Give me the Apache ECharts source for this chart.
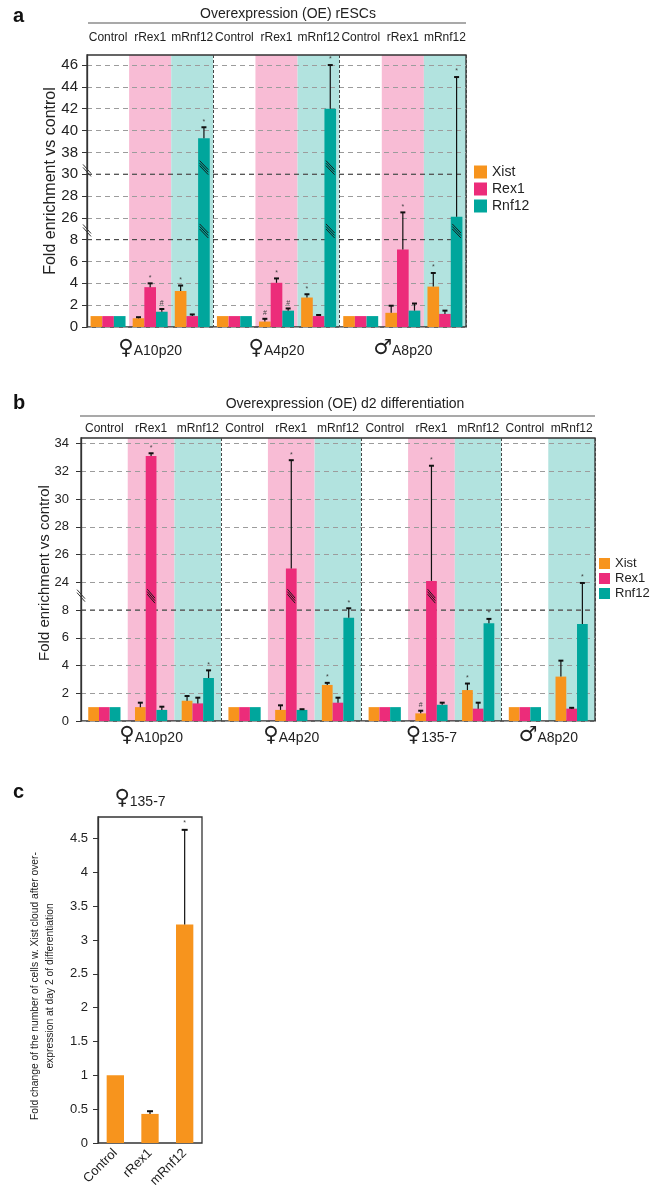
<!DOCTYPE html>
<html><head><meta charset="utf-8">
<script src="https://cdn.jsdelivr.net/npm/echarts@6/dist/echarts.min.js"></script>
<style>html,body{margin:0;padding:0;background:#fff}#c{width:650px;height:1192px}</style>
</head><body><div id="c"></div>
<script>
// ================= DATA =================
const seriesNames = ['Xist', 'Rex1', 'Rnf12'];

// ---- panel a: Overexpression (OE) rESCs ----
const aSub = ['Control','rRex1','mRnf12','Control','rRex1','mRnf12','Control','rRex1','mRnf12'];
const aGroups = ['A10p20', 'A4p20', 'A8p20'];
const aSex = ['♀', '♀', '♂'];
const aGroupSize = [3, 3, 3];
const aXist  = [1.0, 0.8, 3.3,  1.0, 0.5, 2.7,  1.0, 1.3, 3.7];
const aRex1  = [1.0, 3.65, 1.0, 1.0, 4.05, 1.0, 1.0, 7.1, 1.2];
const aRnf12 = [1.0, 1.4, 39.3, 1.0, 1.5, 42.0, 1.0, 1.5, 26.1];
const aXistErr  = [null, 0.9, 3.8,  null, 0.75, 3.0, null, 1.95, 4.95];
const aRex1Err  = [null, 4.0, 1.15, null, 4.45, 1.1, null, 26.5, 1.5];
const aRnf12Err = [null, 1.65, 40.3, null, 1.7, 46.0, null, 2.15, 44.9];
const aXistMark  = ['', '', '*', '', '#', '*', '', '', '*'];
const aRex1Mark  = ['', '*', '', '', '*', '', '', '*', ''];
const aRnf12Mark = ['', '#', '*', '', '#', '*', '', '', '*'];
const aTickLabels = ['0','2','4','6','8','26','28','30','38','40','42','44','46'];

// ---- panel b: Overexpression (OE) d2 differentiation ----
const bSub = ['Control','rRex1','mRnf12','Control','rRex1','mRnf12','Control','rRex1','mRnf12','Control','mRnf12'];
const bGroups = ['A10p20', 'A4p20', '135-7', 'A8p20'];
const bSex = ['♀', '♀', '♀', '♂'];
const bGroupSize = [3, 3, 3, 2];
const bXist  = [1.0, 1.0, 1.46, 1.0, 0.8, 2.6,  1.0, 0.55, 2.23, 1.0, 3.2];
const bRex1  = [1.0, 33.1, 1.27, 1.0, 25.0, 1.32, 1.0, 24.1, 0.89, 1.0, 0.89];
const bRnf12 = [1.0, 0.8, 3.1,  1.0, 0.8, 7.45, 1.0, 1.17, 7.05, 1.0, 7.0];
const bXistErr  = [null, 1.32, 1.8,  null, 1.13, 2.75, null, 0.74, 2.7,  null, 4.35];
const bRex1Err  = [null, 33.3, 1.68, null, 32.8, 1.68, null, 32.4, 1.32, null, 0.95];
const bRnf12Err = [null, 1.03, 3.65, null, 0.85, 9.0,  null, 1.32, 7.36, null, 23.6];
const bXistMark  = ['', '', '', '', '', '*', '', '#', '*', '', ''];
const bRex1Mark  = ['', '*', '', '', '*', '', '', '*', '', '', ''];
const bRnf12Mark = ['', '', '*', '', '', '*', '', '', '*', '', '*'];
const bTickLabels = ['0','2','4','6','8','24','26','28','30','32','34'];

// ---- panel c: ♀135-7 ----
const cCats = ['Control', 'rRex1', 'mRnf12'];
const cVals = [1.0, 0.43, 3.23];
const cErr  = [null, 0.47, 4.63];
const cMark = ['', '', '*'];
const cTickValues = [0, 0.5, 1, 1.5, 2, 2.5, 3, 3.5, 4, 4.5];

// ================= STYLE =================
const FONT = '"Liberation Sans", Arial, Helvetica, sans-serif';
const COLORS = { Xist: '#F7941D', Rex1: '#EC2C7A', Rnf12: '#00A69C' };
const BAND = { Control: '#FFFFFF', rRex1: '#F8BCD5', mRnf12: '#B2E3DF' };
const TXT = '#222';

// broken-axis scales (real value -> axis position)
function tA(v) {
  if (v <= 8) return v / 2;
  if (v <= 26) return 4 + (v - 8) / 18;
  if (v <= 30) return 5 + (v - 26) / 2;
  if (v <= 38) return 7 + (v - 30) / 8;
  return 8 + (v - 38) / 2;
}
function tB(v) {
  if (v <= 8) return v / 2;
  if (v <= 24) return 4 + (v - 8) / 16;
  return 5 + (v - 24) / 2;
}
function tC(v) { return v; }

function groupCenters(sizes) {
  const out = []; let acc = 0;
  sizes.forEach(s => { out.push(acc + s / 2); acc += s; });
  return out;
}
function sepIndices(sizes) {
  const out = []; let acc = 0;
  sizes.slice(0, -1).forEach(s => { acc += s; out.push(acc); });
  return out;
}

const chart = echarts.init(document.getElementById('c'), null, { renderer: 'canvas', width: 650, height: 1192 });

const grids = [
  { left: 87, top: 55, width: 379, height: 272 },
  { left: 81, top: 438, width: 514, height: 283 },
  { left: 98, top: 817, width: 104, height: 326 }
].map(g => Object.assign(g, { show: true, borderColor: '#333', borderWidth: 1.3, backgroundColor: 'transparent', containLabel: false }));

const xAxes = [], yAxes = [], series = [];

function groupAxis(gi, sizes, groups, sex, margin) {
  const centers = groupCenters(sizes);
  const total = sizes.reduce((a, b) => a + b, 0);
  return {
    type: 'value', gridIndex: gi, min: 0, max: total, position: 'bottom',
    axisLine: { show: false, onZero: false }, axisTick: { show: false }, splitLine: { show: false },
    axisLabel: {
      customValues: centers, margin: margin,
      formatter: v => { const i = centers.findIndex(c => Math.abs(c - v) < 1e-6); return i < 0 ? '' : '{g|' + sex[i] + '}{t|' + groups[i] + '}'; },
      rich: {
        g: { fontSize: 21, fontFamily: 'DejaVu Sans', color: TXT, padding: [0, 0, 0, 0] },
        t: { fontSize: 14, fontFamily: FONT, color: TXT, padding: [6, 0, 0, 0] }
      }
    }
  };
}

function buildPanel(cfg) {
  const xMain = xAxes.length;
  xAxes.push({
    type: 'category', gridIndex: cfg.gi, data: cfg.sub, position: 'top',
    axisLine: { show: false }, axisTick: { show: false }, splitLine: { show: false },
    axisLabel: { fontSize: 12, color: TXT, fontFamily: FONT, margin: cfg.topMargin, interval: 0 }
  });
  const xBand = xAxes.length;
  const seps = sepIndices(cfg.groupSize);
  xAxes.push({
    type: 'category', gridIndex: cfg.gi, data: cfg.sub, position: 'bottom',
    axisLine: { show: false, onZero: false }, axisTick: { show: false }, axisLabel: { show: false },
    splitLine: { show: true, interval: (i) => seps.indexOf(i) >= 0, lineStyle: { color: '#444', type: [3, 2], width: 1 } }
  });
  xAxes.push(groupAxis(cfg.gi, cfg.groupSize, cfg.groups, cfg.sex, cfg.botMargin));
  const yi = yAxes.length;
  const ticks = cfg.tickLabels.map((_, i) => i);
  yAxes.push({
    type: 'value', gridIndex: cfg.gi, min: 0, max: cfg.ymax,
    axisLine: { show: true, lineStyle: { color: '#333', width: 1.3 } },
    axisTick: { show: true, inside: false, length: 5, customValues: ticks, lineStyle: { color: '#333' } },
    axisLabel: { customValues: ticks, formatter: v => cfg.tickLabels[Math.round(v)], fontSize: cfg.tickFont, color: TXT, fontFamily: FONT, margin: cfg.labelMargin },
    splitLine: { show: true, lineStyle: { color: '#9c9c9c', type: [5, 4], width: 1 } }
  });
  const gap = cfg.gapPct / 100;
  const tf = cfg.tf;
  // background bands
  series.push({
    type: 'bar', xAxisIndex: xBand, yAxisIndex: yi, barWidth: '100%', z: -1, silent: true,
    data: cfg.sub.map(s => ({ value: cfg.ymax, itemStyle: { color: BAND[s] } }))
  });
  // bars
  seriesNames.forEach((n, k) => {
    series.push({
      type: 'bar', name: n, xAxisIndex: xMain, yAxisIndex: yi, barGap: '0%', barCategoryGap: cfg.gapPct + '%', z: 2,
      itemStyle: { color: COLORS[n] }, data: cfg.vals[k].map(v => tf(v))
    });
  });
  // error bars + hatches
  const errItems = [], hatchItems = [];
  for (let k = 0; k < 3; k++) {
    cfg.vals[k].forEach((v, c) => {
      const e = cfg.errs[k][c];
      if (e != null) errItems.push({ c, k, v: tf(v), e: tf(e), m: cfg.marks[k][c] });
      cfg.hatchPos.forEach(p => { if (tf(v) > p + 0.2) hatchItems.push({ c, k, p }); });
    });
  }
  series.push({
    type: 'custom', xAxisIndex: xMain, yAxisIndex: yi, z: 4, silent: true,
    data: errItems.map(it => [it.c, it.e]),
    renderItem: function (params, api) {
      const it = errItems[params.dataIndex];
      const bw = api.size([1, 0])[0];
      const barW = bw * (1 - gap) / 3;
      const cx = api.coord([it.c, 0])[0] + (it.k - 1) * barW;
      const y0 = api.coord([it.c, it.v])[1];
      const y1 = api.coord([it.c, it.e])[1];
      const ch = [
        { type: 'line', shape: { x1: cx, y1: y0, x2: cx, y2: y1 }, style: { stroke: '#111', lineWidth: 1.2 } },
        { type: 'line', shape: { x1: cx - 2.5, y1: y1, x2: cx + 2.5, y2: y1 }, style: { stroke: '#111', lineWidth: 2 } }
      ];
      if (it.m) ch.push({ type: 'text', x: cx, y: y1 - 2, style: { text: it.m, fontSize: 7, fill: '#444', align: 'center', verticalAlign: 'bottom', fontFamily: FONT } });
      return { type: 'group', children: ch };
    }
  });
  series.push({
    type: 'custom', xAxisIndex: xMain, yAxisIndex: yi, z: 3, silent: true,
    data: hatchItems.map(it => [it.c, it.p]),
    renderItem: function (params, api) {
      const it = hatchItems[params.dataIndex];
      const bw = api.size([1, 0])[0];
      const barW = bw * (1 - gap) / 3;
      const cx = api.coord([it.c, 0])[0] + (it.k - 1) * barW;
      const y = api.coord([it.c, it.p])[1];
      const l = cx - barW / 2 + 1.5, r = cx + barW / 2 - 1.5;
      const ch = [];
      [-2, 0.5, 3].forEach(d => ch.push({ type: 'line', shape: { x1: l, y1: y - 5 + d, x2: r, y2: y + 4 + d }, style: { stroke: '#1a1a1a', lineWidth: 1 } }));
      return { type: 'group', children: ch };
    }
  });
  // decorations: dark dashed break lines + axis break marks
  series.push({
    type: 'custom', xAxisIndex: xMain, yAxisIndex: yi, z: 1, silent: true,
    data: [[0, 0]],
    renderItem: function (params, api) {
      const cs = params.coordSys;
      const ch = [];
      cfg.darkPos.forEach(p => {
        const y = api.coord([0, p])[1];
        ch.push({ type: 'line', shape: { x1: cs.x, y1: y, x2: cs.x + cs.width, y2: y }, style: { stroke: '#3a3a3a', lineWidth: 1, lineDash: [5, 4] } });
      });
      return { type: 'group', children: ch };
    }
  });
  series.push({
    type: 'custom', xAxisIndex: xMain, yAxisIndex: yi, z: 5, silent: true, clip: false,
    data: [[0, 0]],
    renderItem: function (params, api) {
      const cs = params.coordSys;
      const ch = [];
      cfg.axisBreakPos.forEach(p => {
        const y = api.coord([0, p])[1];
        [-1.5, 1.5].forEach(d => ch.push({ type: 'line', shape: { x1: cs.x - 4, y1: y - 5 + d, x2: cs.x + 4, y2: y + 4 + d }, style: { stroke: '#333', lineWidth: 1 } }));
      });
      return { type: 'group', children: ch };
    }
  });
}

buildPanel({
  gi: 0, sub: aSub, groups: aGroups, sex: aSex, groupSize: aGroupSize,
  vals: [aXist, aRex1, aRnf12], errs: [aXistErr, aRex1Err, aRnf12Err], marks: [aXistMark, aRex1Mark, aRnf12Mark],
  tf: tA, tickLabels: aTickLabels, ymax: 12.46, gapPct: 17, tickFont: 15, labelMargin: 9,
  topMargin: 11, botMargin: 11, hatchPos: [4.4, 7.3], darkPos: [4, 7], axisBreakPos: [4.4, 7.15]
});
buildPanel({
  gi: 1, sub: bSub, groups: bGroups, sex: bSex, groupSize: bGroupSize,
  vals: [bXist, bRex1, bRnf12], errs: [bXistErr, bRex1Err, bRnf12Err], marks: [bXistMark, bRex1Mark, bRnf12Mark],
  tf: tB, tickLabels: bTickLabels, ymax: 10.2, gapPct: 31, tickFont: 13, labelMargin: 12,
  topMargin: 3, botMargin: 4, hatchPos: [4.5], darkPos: [4], axisBreakPos: [4.5]
});

// ---- panel c ----
const xC = xAxes.length;
xAxes.push({
  type: 'category', gridIndex: 2, data: cCats, position: 'bottom',
  axisLine: { show: false, onZero: false }, axisTick: { show: false },
  axisLabel: { rotate: 45, fontSize: 13, color: TXT, fontFamily: FONT, margin: 8, interval: 0 }
});
const yC = yAxes.length;
yAxes.push({
  type: 'value', gridIndex: 2, min: 0, max: 4.82,
  axisLine: { show: true, lineStyle: { color: '#333', width: 1.3 } },
  axisTick: { show: true, length: 5, customValues: cTickValues, lineStyle: { color: '#333' } },
  axisLabel: { customValues: cTickValues, fontSize: 13, color: TXT, fontFamily: FONT, margin: 10 },
  splitLine: { show: false }
});
series.push({
  type: 'bar', name: 'Xist', xAxisIndex: xC, yAxisIndex: yC, barWidth: '50%', z: 2,
  itemStyle: { color: COLORS.Xist }, data: cVals.map(tC)
});
const cErrItems = cVals.map((v, i) => ({ c: i, v: tC(v), e: cErr[i] == null ? null : tC(cErr[i]), m: cMark[i] })).filter(d => d.e != null);
series.push({
  type: 'custom', xAxisIndex: xC, yAxisIndex: yC, z: 4, silent: true,
  data: cErrItems.map(it => [it.c, it.e]),
  renderItem: function (params, api) {
    const it = cErrItems[params.dataIndex];
    const cx = api.coord([it.c, 0])[0];
    const y0 = api.coord([it.c, it.v])[1];
    const y1 = api.coord([it.c, it.e])[1];
    const ch = [
      { type: 'line', shape: { x1: cx, y1: y0, x2: cx, y2: y1 }, style: { stroke: '#111', lineWidth: 1.2 } },
      { type: 'line', shape: { x1: cx - 3, y1: y1, x2: cx + 3, y2: y1 }, style: { stroke: '#111', lineWidth: 2 } }
    ];
    if (it.m) ch.push({ type: 'text', x: cx, y: y1 - 3, style: { text: it.m, fontSize: 7, fill: '#444', align: 'center', verticalAlign: 'bottom', fontFamily: FONT } });
    return { type: 'group', children: ch };
  }
});

const legendCommon = { data: seriesNames, orient: 'vertical', icon: 'rect', selectedMode: false, padding: 0 };
const graphic = [
  { type: 'text', left: 13, top: 6, style: { text: 'a', font: 'bold 20px ' + FONT, fill: '#111' } },
  { type: 'text', left: 13, top: 393, style: { text: 'b', font: 'bold 20px ' + FONT, fill: '#111' } },
  { type: 'text', left: 13, top: 782, style: { text: 'c', font: 'bold 20px ' + FONT, fill: '#111' } },
  { type: 'text', x: 288, y: 14, style: { text: 'Overexpression (OE) rESCs', fontSize: 14, fontFamily: FONT, fill: TXT, align: 'center', verticalAlign: 'middle' } },
  { type: 'line', shape: { x1: 88, y1: 23, x2: 466, y2: 23 }, style: { stroke: '#555', lineWidth: 1.2 } },
  { type: 'text', x: 345, y: 404, style: { text: 'Overexpression (OE) d2 differentiation', fontSize: 14, fontFamily: FONT, fill: TXT, align: 'center', verticalAlign: 'middle' } },
  { type: 'line', shape: { x1: 80, y1: 416, x2: 595, y2: 416 }, style: { stroke: '#555', lineWidth: 1.2 } },
  { type: 'text', x: 51, y: 181, rotation: Math.PI / 2, style: { text: 'Fold enrichment vs control', fontSize: 16, fontFamily: FONT, fill: TXT, align: 'center', verticalAlign: 'middle' } },
  { type: 'text', x: 45, y: 573, rotation: Math.PI / 2, style: { text: 'Fold enrichment vs control', fontSize: 15, fontFamily: FONT, fill: TXT, align: 'center', verticalAlign: 'middle' } },
  { type: 'text', x: 43, y: 986, rotation: Math.PI / 2, style: { text: 'Fold change of the number of cells w. Xist cloud after over-\nexpression at day 2 of differentiation', fontSize: 10.3, lineHeight: 15, fontFamily: FONT, fill: TXT, align: 'center', verticalAlign: 'middle' } },
  { type: 'text', x: 140, y: 799, style: { text: '{g|♀}{t|135-7}', align: 'center', verticalAlign: 'middle', rich: { g: { fontSize: 21, fontFamily: 'DejaVu Sans', fill: TXT }, t: { fontSize: 14, fontFamily: FONT, fill: TXT, padding: [6, 0, 0, 0] } } } }
];

chart.setOption({
  animation: false,
  textStyle: { fontFamily: FONT },
  grid: grids,
  xAxis: xAxes,
  yAxis: yAxes,
  legend: [
    Object.assign({ left: 474, top: 165, itemWidth: 13, itemHeight: 13, itemGap: 3, textStyle: { fontSize: 14, color: TXT, fontFamily: FONT } }, legendCommon),
    Object.assign({ left: 599, top: 557, itemWidth: 11, itemHeight: 11, itemGap: 2, textStyle: { fontSize: 13, color: TXT, fontFamily: FONT } }, legendCommon)
  ],
  graphic: graphic,
  series: series
});
</script>
</body></html>
